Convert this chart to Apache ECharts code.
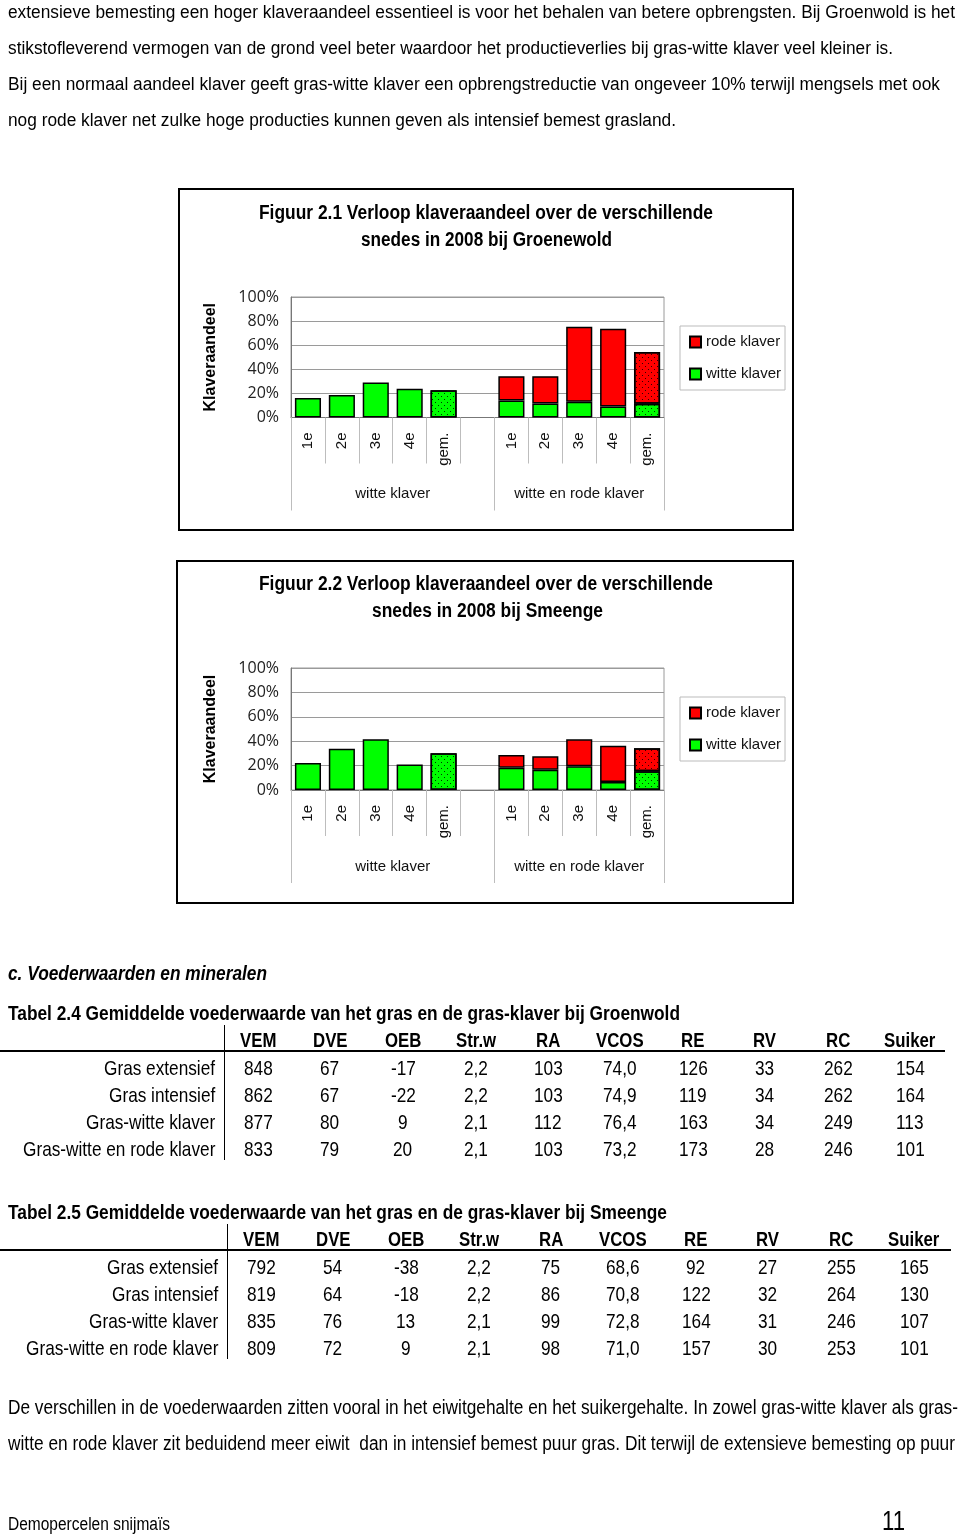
<!DOCTYPE html>
<html><head><meta charset="utf-8">
<script src="https://cdn.jsdelivr.net/npm/echarts@6/dist/echarts.min.js"></script>
<style>
html,body{margin:0;padding:0;background:#fff;}
#page{position:relative;width:960px;height:1535px;overflow:hidden;background:#fff;}
#chart{position:absolute;left:0;top:0;width:960px;height:1535px;}
.t{position:absolute;white-space:pre;transform-origin:0 0;color:#000;}
.box{position:absolute;border:2px solid #000;box-sizing:border-box;}
.ln{position:absolute;background:#000;}
</style></head><body><div id="page"><div id="chart"></div></div>
<script>
// ---------- DATA ----------
const snedes = ['1e', '2e', '3e', '4e', 'gem.'];
const groepen = ['witte klaver', 'witte en rode klaver'];
const legendaNamen = ['rode klaver', 'witte klaver'];
const yMax = 100, yStap = 20;

// Figuur 2.1 Groenewold (% klaver)
const groen_witte = [16.1, 18.6, 29.1, 23.8, 22.7];
const groen_mengselWitte = [14.1, 11.6, 13.0, 9.1, 11.4];
const groen_mengselRode = [20.2, 22.7, 62.3, 64.6, 42.9];

// Figuur 2.2 Smeenge (% klaver)
const smeen_witte = [22.1, 33.9, 41.5, 20.8, 30.1];
const smeen_mengselWitte = [18.3, 16.7, 19.4, 6.6, 15.3];
const smeen_mengselRode = [10.4, 10.9, 22.1, 29.7, 18.9];

// Tabellen
const kolommen = ['VEM', 'DVE', 'OEB', 'Str.w', 'RA', 'VCOS', 'RE', 'RV', 'RC', 'Suiker'];
const rijen = ['Gras extensief', 'Gras intensief', 'Gras-witte klaver', 'Gras-witte en rode klaver'];
const tabel24 = [
  ['848', '67', '-17', '2,2', '103', '74,0', '126', '33', '262', '154'],
  ['862', '67', '-22', '2,2', '103', '74,9', '119', '34', '262', '164'],
  ['877', '80', '9', '2,1', '112', '76,4', '163', '34', '249', '113'],
  ['833', '79', '20', '2,1', '103', '73,2', '173', '28', '246', '101']
];
const tabel25 = [
  ['792', '54', '-38', '2,2', '75', '68,6', '92', '27', '255', '165'],
  ['819', '64', '-18', '2,2', '86', '70,8', '122', '32', '264', '130'],
  ['835', '76', '13', '2,1', '99', '72,8', '164', '31', '246', '107'],
  ['809', '72', '9', '2,1', '98', '71,0', '157', '30', '253', '101']
];

// Teksten
const alineaBoven = [
  'extensieve bemesting een hoger klaveraandeel essentieel is voor het behalen van betere opbrengsten. Bij Groenwold is het',
  'stikstofleverend vermogen van de grond veel beter waardoor het productieverlies bij gras-witte klaver veel kleiner is.',
  'Bij een normaal aandeel klaver geeft gras-witte klaver een opbrengstreductie van ongeveer 10% terwijl mengsels met ook',
  'nog rode klaver net zulke hoge producties kunnen geven als intensief bemest grasland.'
];
const titel21 = ['Figuur 2.1 Verloop klaveraandeel over de verschillende', 'snedes in 2008 bij Groenewold'];
const titel22 = ['Figuur 2.2 Verloop klaveraandeel over de verschillende', 'snedes in 2008 bij Smeenge'];
const kop = 'c. Voederwaarden en mineralen';
const tabelTitel24 = 'Tabel 2.4 Gemiddelde voederwaarde van het gras en de gras-klaver bij Groenwold';
const tabelTitel25 = 'Tabel 2.5 Gemiddelde voederwaarde van het gras en de gras-klaver bij Smeenge';
const alineaOnder = [
  'De verschillen in de voederwaarden zitten vooral in het eiwitgehalte en het suikergehalte. In zowel gras-witte klaver als gras-',
  'witte en rode klaver zit beduidend meer eiwit  dan in intensief bemest puur gras. Dit terwijl de extensieve bemesting op puur'
];
const voettekst = 'Demopercelen snijmaïs';
const paginaNr = '11';

// ---------- HTML TEXT ----------
const page = document.getElementById('page');
const SANS = "'Liberation Sans', Arial, sans-serif";
function put(txt, o) {
  const el = document.createElement('div');
  el.className = 't';
  el.textContent = txt;
  const fs = o.size || 18;
  el.style.fontFamily = o.font || SANS;
  el.style.fontSize = fs + 'px';
  el.style.lineHeight = fs + 'px';
  el.style.fontWeight = o.bold ? 'bold' : 'normal';
  el.style.fontStyle = o.italic ? 'italic' : 'normal';
  page.appendChild(el);
  const w = el.getBoundingClientRect().width;
  const s = o.w ? o.w / w : (o.sx || 1);
  const dw = w * s;
  let left = o.x;
  if (o.anchor === 'center') left = o.x - dw / 2;
  else if (o.anchor === 'right') left = o.x - dw;
  el.style.left = left + 'px';
  el.style.top = (o.y - 0.49 * fs) + 'px';
  el.style.transform = 'scaleX(' + s + ')';
}
function rect(cls, l, t, w, h) {
  const d = document.createElement('div');
  d.className = cls;
  d.style.left = l + 'px'; d.style.top = t + 'px';
  d.style.width = w + 'px'; d.style.height = h + 'px';
  page.appendChild(d);
}

const bovenY = [12, 48, 84, 120], bovenW = [947, 885, 932, 668];
alineaBoven.forEach((s, i) => put(s, {x: 8, y: bovenY[i], size: 18, w: bovenW[i]}));

rect('box', 178, 188, 616, 343);
rect('box', 176, 560, 618, 344);
put(titel21[0], {x: 486, y: 212, size: 20, bold: true, anchor: 'center', w: 454});
put(titel21[1], {x: 486.5, y: 239, size: 20, bold: true, anchor: 'center', w: 251});
put(titel22[0], {x: 486, y: 583, size: 20, bold: true, anchor: 'center', w: 454});
put(titel22[1], {x: 487.5, y: 610, size: 20, bold: true, anchor: 'center', w: 231});

put(kop, {x: 8, y: 973, size: 20, bold: true, italic: true, w: 259});

const kolX24 = [258, 330, 403, 476, 548, 620, 693, 765, 838, 910];
const kolX25 = [261, 333, 406, 479, 551, 623, 696, 768, 841, 914];
function tabel(titel, titelY, titelW, kolX, data, headY, labelR, lineY, lineW, vX) {
  put(titel, {x: 8, y: titelY, size: 21, bold: true, w: titelW});
  kolommen.forEach((k, j) => put(k, {x: kolX[j], y: headY, size: 21, bold: true, anchor: 'center', sx: 0.8}));
  rect('ln', 0, lineY, lineW, 2);
  rect('ln', vX, headY - 14, 1, 135);
  rijen.forEach((r, i) => {
    const y = headY + 28 + i * 27;
    put(r, {x: labelR, y: y, size: 21, anchor: 'right', sx: 0.82});
    data[i].forEach((v, j) => put(v, {x: kolX[j], y: y, size: 21, anchor: 'center', sx: 0.82}));
  });
}
tabel(tabelTitel24, 1012, 672, kolX24, tabel24, 1039, 215, 1050, 945, 224);
tabel(tabelTitel25, 1211, 659, kolX25, tabel25, 1238, 218, 1249, 951, 227);

put(alineaOnder[0], {x: 8, y: 1407, size: 20, w: 950});
put(alineaOnder[1], {x: 8, y: 1443, size: 20, w: 947});
put(voettekst, {x: 8, y: 1524, size: 18, w: 162});
put(paginaNr, {x: 882, y: 1521, size: 27, w: 23});

// ---------- ECHARTS ----------
const cats = [...snedes, '', ...snedes];
const grenzen = [0, snedes.length + 1, cats.length];
const centra = [(grenzen[0] + grenzen[1]) / 2, (grenzen[1] + grenzen[2]) / 2];
const dots = {
  symbol: 'rect', symbolSize: 1, color: 'rgba(0,0,0,0.8)',
  dashArrayX: [[1, 5], [0, 3, 1, 2]], dashArrayY: [1, 2], rotation: 0
};
function withDecal(arr) {
  return arr.map((v, i) => (v === '-' ? '-' : (cats[i] === 'gem.' ? {value: v, itemStyle: {decal: dots}} : v)));
}

const figs = [
  {top: 297, height: 120.5, legendTop: 326, witte: groen_witte, mW: groen_mengselWitte, mR: groen_mengselRode},
  {top: 668, height: 122, legendTop: 697, witte: smeen_witte, mW: smeen_mengselWitte, mR: smeen_mengselRode}
];

const option = {
  animation: false,
  grid: [], xAxis: [], yAxis: [], series: [], legend: []
};
const gap = snedes.map(() => '-');
figs.forEach((f, gi) => {
  option.grid.push({left: 291, top: f.top, width: 373, height: f.height, show: true, borderColor: '#9a9a9a', borderWidth: 1});
  option.xAxis.push({
    gridIndex: gi, type: 'category', data: cats, position: 'bottom',
    axisLine: {lineStyle: {color: '#777', width: 1}},
    axisTick: {show: true, interval: 0, length: 46, lineStyle: {color: '#bdbdbd'}},
    axisLabel: {interval: 0, rotate: 90, margin: 15, fontFamily: SANS, fontSize: 15, color: '#111'},
    splitLine: {show: false}
  });
  option.xAxis.push({
    gridIndex: gi, type: 'value', min: grenzen[0], max: grenzen[2], position: 'bottom',
    axisLine: {show: false}, splitLine: {show: false},
    axisTick: {show: true, customValues: grenzen, length: 93, lineStyle: {color: '#bdbdbd'}},
    axisLabel: {
      customValues: centra, margin: 69, fontFamily: SANS, fontSize: 15, color: '#111',
      formatter: v => { const i = centra.indexOf(v); return i >= 0 ? groepen[i] : ''; }
    }
  });
  option.yAxis.push({
    gridIndex: gi, type: 'value', min: 0, max: yMax, interval: yStap,
    axisLine: {show: true, lineStyle: {color: '#777'}}, axisTick: {show: false},
    axisLabel: {formatter: '{value}%', fontFamily: "'Open Sans', sans-serif", fontSize: 16, color: '#222', margin: 12},
    splitLine: {lineStyle: {color: '#9a9a9a', width: 1}},
    name: 'Klaveraandeel', nameLocation: 'middle', nameRotate: 90, nameGap: 72,
    nameTextStyle: {fontFamily: SANS, fontWeight: 'bold', fontSize: 16, color: '#000'}
  });
  option.series.push({
    type: 'bar', name: 'witte klaver', xAxisIndex: gi * 2, yAxisIndex: gi, stack: 'st' + gi,
    barCategoryGap: '23%',
    itemStyle: {color: '#00ff00', borderColor: '#000', borderWidth: 1.5},
    data: withDecal([...f.witte, '-', ...f.mW])
  });
  option.series.push({
    type: 'bar', name: 'rode klaver', xAxisIndex: gi * 2, yAxisIndex: gi, stack: 'st' + gi,
    barCategoryGap: '23%',
    itemStyle: {color: '#ff0000', borderColor: '#000', borderWidth: 1.5},
    data: withDecal([...gap, '-', ...f.mR])
  });
  option.legend.push({
    data: legendaNamen, left: 680, top: f.legendTop, orient: 'vertical', icon: 'rect',
    itemWidth: 11, itemHeight: 11, itemGap: 14, padding: [7, 4, 7, 9],
    borderColor: '#bbb', borderWidth: 1, selectedMode: false,
    textStyle: {fontFamily: SANS, fontSize: 15, color: '#111', lineHeight: 18}
  });
});

const chart = echarts.init(document.getElementById('chart'), null, {renderer: 'canvas'});
chart.setOption(option);
</script></body></html>
